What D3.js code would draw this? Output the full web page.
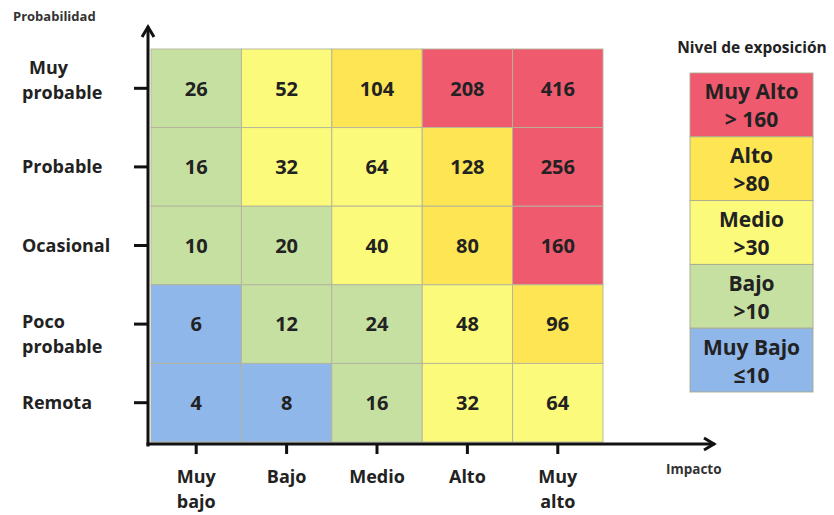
<!DOCTYPE html>
<html>
<head>
<meta charset="utf-8">
<script src="https://cdn.jsdelivr.net/npm/d3@7"></script>
<style>
  body { margin: 0; background: #fff; }
  text { font-family: "Open Sans", Lato, sans-serif; font-weight: bold; fill: #222; }
</style>
</head>
<body>
<svg id="chart"></svg>
<script>
// rows top -> bottom
var probLabels = ["Muy probable", "Probable", "Ocasional", "Poco probable", "Remota"];
var impactLabels = ["Muy bajo", "Bajo", "Medio", "Alto", "Muy alto"];

var values = [
  [26, 52, 104, 208, 416],
  [16, 32, 64, 128, 256],
  [10, 20, 40, 80, 160],
  [6, 12, 24, 48, 96],
  [4, 8, 16, 32, 64]
];

// exposure level of each cell, as coloured in the picture
var cellLevels = [
  ["Bajo", "Medio", "Alto", "Muy Alto", "Muy Alto"],
  ["Bajo", "Medio", "Medio", "Alto", "Muy Alto"],
  ["Bajo", "Bajo", "Medio", "Alto", "Muy Alto"],
  ["Muy Bajo", "Bajo", "Bajo", "Medio", "Alto"],
  ["Muy Bajo", "Muy Bajo", "Bajo", "Medio", "Medio"]
];

var levelNames = ["Muy Alto", "Alto", "Medio", "Bajo", "Muy Bajo"];
var levelLimits = ["> 160", ">80", ">30", ">10", "\u226410"];
var levelColors = ["#f05a6f", "#fde553", "#fcfa7a", "#c6e0a1", "#8fb7ea"];

var width = 834, height = 515;

var svg = d3.select("svg#chart")
  .attr("width", width)
  .attr("height", height);

var color = d3.scaleOrdinal().domain(levelNames).range(levelColors);

var x = d3.scaleBand().domain(impactLabels).range([151, 603]);
var y = d3.scaleBand().domain(probLabels).range([49, 442]);

// cells
var cells = [];
values.forEach(function(row, r) {
  row.forEach(function(v, c) {
    cells.push({ prob: probLabels[r], impact: impactLabels[c], value: v, level: cellLevels[r][c] });
  });
});

var grid = svg.append("g");

grid.selectAll("rect")
  .data(cells)
  .enter()
  .append("rect")
  .attr("x", d => x(d.impact))
  .attr("y", d => y(d.prob))
  .attr("width", x.bandwidth())
  .attr("height", y.bandwidth())
  .attr("fill", d => color(d.level))
  .attr("stroke", "#b3b39c")
  .attr("stroke-width", 0.9);

grid.selectAll("text")
  .data(cells)
  .enter()
  .append("text")
  .attr("x", d => x(d.impact) + x.bandwidth() / 2)
  .attr("y", d => y(d.prob) + y.bandwidth() / 2)
  .attr("dy", "0.36em")
  .attr("text-anchor", "middle")
  .style("font-size", "20px")
  .text(d => d.value);

// axes: ticks and labels from d3, main lines drawn with arrows
var axisX = 148, axisY = 444;
var labelFont = "\"Open Sans\", sans-serif";

var yAxis = d3.axisLeft(y).tickSize(14).tickSizeOuter(0);
var gY = svg.append("g")
  .attr("transform", "translate(" + axisX + ",0)")
  .call(yAxis);
gY.select(".domain").remove();
gY.selectAll(".tick line").attr("stroke", "#111").attr("stroke-width", 3);
gY.selectAll(".tick text")
  .attr("x", 22 - axisX)
  .attr("text-anchor", "start")
  .style("font-size", "18px")
  .style("font-family", labelFont)
  .style("fill", "#222")
  .each(function(d, i) {
    var words = d.split(" ");
    var t = d3.select(this).text(null).attr("dy", null);
    if (words.length === 1) {
      t.append("tspan").attr("x", 22 - axisX).attr("dy", "0.35em").text(d);
    } else {
      var shift = i < 2 ? -21 : -2;
      t.append("tspan").attr("x", 22 - axisX + (i < 2 ? 7 : 0)).attr("y", shift).attr("dy", "0.35em").text(words[0]);
      t.append("tspan").attr("x", 22 - axisX).attr("y", shift + 25).attr("dy", "0.35em").text(words[1]);
    }
  });

var xAxis = d3.axisBottom(x).tickSize(10).tickSizeOuter(0);
var gX = svg.append("g")
  .attr("transform", "translate(0," + axisY + ")")
  .call(xAxis);
gX.select(".domain").remove();
gX.selectAll(".tick line").attr("stroke", "#111").attr("stroke-width", 3);
gX.selectAll(".tick text")
  .style("font-size", "18px")
  .style("font-family", labelFont)
  .style("fill", "#222")
  .each(function(d) {
    var words = d.split(" ");
    var t = d3.select(this).text(null).attr("y", null).attr("dy", null);
    words.forEach(function(w, k) {
      t.append("tspan").attr("x", 0).attr("y", 33 + k * 25).attr("dy", "0.35em").text(w);
    });
  });

var axisLines = svg.append("g")
  .attr("stroke", "#111")
  .attr("stroke-width", 3)
  .attr("fill", "none")
  .attr("stroke-linecap", "square");

axisLines.append("line").attr("x1", axisX).attr("y1", axisY + 1).attr("x2", axisX).attr("y2", 28);
axisLines.append("polyline").attr("points", [[axisX - 6, 37], [axisX, 27], [axisX + 6, 37]].join(" "))
  .attr("stroke-linejoin", "miter").attr("stroke-linecap", "butt");
axisLines.append("line").attr("x1", axisX).attr("y1", axisY).attr("x2", 713).attr("y2", axisY);
axisLines.append("polyline").attr("points", [[704, axisY - 6], [714, axisY], [704, axisY + 6]].join(" "))
  .attr("stroke-linejoin", "miter").attr("stroke-linecap", "butt");

// axis titles
svg.append("text")
  .attr("x", 13).attr("y", 21)
  .style("font-size", "13px").style("fill", "#333")
  .text("Probabilidad");

svg.append("text")
  .attr("x", 666).attr("y", 474)
  .style("font-size", "13.5px").style("fill", "#333")
  .text("Impacto");

// legend
var legend = svg.append("g");
legend.append("text")
  .attr("x", 752).attr("y", 53)
  .attr("text-anchor", "middle")
  .style("font-size", "15.5px").style("fill", "#222")
  .text("Nivel de exposici\u00f3n");

var ly = d3.scaleBand().domain(levelNames).range([73, 392]);

var items = legend.selectAll("g.item")
  .data(levelNames)
  .enter()
  .append("g")
  .attr("class", "item")
  .attr("transform", d => "translate(690," + ly(d) + ")");

items.append("rect")
  .attr("width", 123)
  .attr("height", ly.bandwidth())
  .attr("fill", d => color(d))
  .attr("stroke", "#a9a990")
  .attr("stroke-width", 0.9);

items.append("text")
  .attr("x", 61.5)
  .attr("y", ly.bandwidth() / 2 - 13)
  .attr("dy", "0.36em")
  .attr("text-anchor", "middle")
  .style("font-size", "21px")
  .text(d => d);

items.append("text")
  .attr("x", 61.5)
  .attr("y", ly.bandwidth() / 2 + 15)
  .attr("dy", "0.36em")
  .attr("text-anchor", "middle")
  .style("font-size", "21px")
  .text((d, i) => levelLimits[i]);
</script>
</body>
</html>
